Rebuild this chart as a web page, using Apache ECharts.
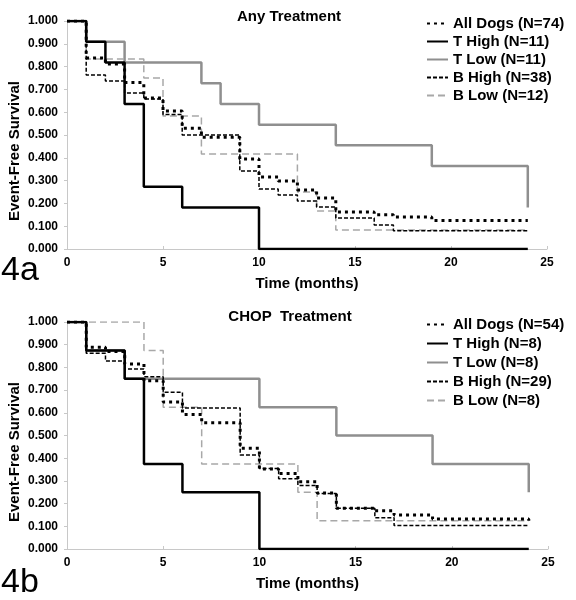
<!DOCTYPE html>
<html><head><meta charset="utf-8">
<script src="https://cdn.jsdelivr.net/npm/echarts@6/dist/echarts.min.js"></script>
<style>html,body{margin:0;padding:0;background:#fff}#c{width:576px;height:600px}</style>
</head><body><div id="c"></div>
<script>
// ---- Panel 4a: Any Treatment ----
const aTitle = 'Any Treatment';
const aNames = ['All Dogs (N=74)', 'T High (N=11)', 'T Low (N=11)', 'B High (N=38)', 'B Low (N=12)'];
const aAllT = [0,1,2,3,4,5,6,7,9,10,11,12,13,14,16,17,19,24];
const aAllS = [1,0.838,0.811,0.730,0.662,0.605,0.530,0.490,0.395,0.316,0.298,0.259,0.224,0.162,0.150,0.140,0.125,0.122];
const aTHighT = [0,1,2,3,4,6,10,24];
const aTHighS = [1,0.909,0.818,0.636,0.273,0.182,0,0];
const aTLowT = [0,1,3,7,8,10,14,19,24];
const aTLowS = [1,0.909,0.818,0.727,0.636,0.545,0.455,0.364,0.182];
const aBHighT = [0,1,2,3,4,5,6,9,10,11,12,13,14,16,17,24];
const aBHighS = [1,0.763,0.737,0.684,0.658,0.590,0.500,0.342,0.263,0.237,0.210,0.184,0.136,0.105,0.080,0.080];
const aBLowT = [0,1,4,5,7,12,13,14,24];
const aBLowS = [1,0.833,0.750,0.583,0.417,0.250,0.167,0.083,0.083];

// ---- Panel 4b: CHOP Treatment ----
const bTitle = 'CHOP  Treatment';
const bNames = ['All Dogs (N=54)', 'T High (N=8)', 'T Low (N=8)', 'B High (N=29)', 'B Low (N=8)'];
const bAllT = [0,1,2,3,4,5,6,7,9,10,11,12,13,14,16,17,19,24];
const bAllS = [1,0.889,0.870,0.815,0.741,0.648,0.593,0.556,0.444,0.352,0.333,0.296,0.247,0.180,0.168,0.150,0.132,0.125];
const bTHighT = [0,1,3,4,6,10,24];
const bTHighS = [1,0.875,0.75,0.375,0.25,0,0];
const bTLowT = [0,1,3,10,14,19,24];
const bTLowS = [1,0.875,0.75,0.625,0.5,0.375,0.25];
const bBHighT = [0,1,2,3,4,5,6,9,10,11,12,13,14,16,17,24];
const bBHighS = [1,0.862,0.828,0.793,0.759,0.690,0.621,0.414,0.355,0.310,0.280,0.245,0.180,0.138,0.103,0.103];
const bBLowT = [0,4,5,7,12,13,24];
const bBLowS = [1,0.875,0.625,0.375,0.25,0.125,0.125];

const xTicks = [0,5,10,15,20,25];
const xName = 'Time (months)';
const yName = 'Event-Free Survival';

const zip = (t, s) => t.map((v, i) => [v, s[i]]);
const FONT = 'Liberation Sans, Arial, sans-serif';

const styles = [
  {color:'#000', width:3, type:[3,4], z:5},      // All dogs dotted
  {color:'#000', width:2.5, type:'solid', z:6},  // T High
  {color:'#8f8f8f', width:2.5, type:'solid', z:2}, // T Low
  {color:'#000', width:1.5, type:[4,2], z:4},    // B High
  {color:'#a8a8a8', width:1.5, type:[7,4], z:3}  // B Low
];

function mkSeries(names, datasets, idx) {
  return names.map((n, i) => ({
    name: n, type: 'line', step: 'end', xAxisIndex: idx, yAxisIndex: idx,
    symbol: 'none', showSymbol: false, z: styles[i].z, silent: true,
    lineStyle: {color: styles[i].color, width: styles[i].width, type: styles[i].type, cap: 'butt'},
    itemStyle: {color: styles[i].color},
    data: zip(datasets[i][0], datasets[i][1])
  }));
}

const grids = [
  {left: 67, top: 21, width: 480, height: 228},
  {left: 67, top: 322, width: 481, height: 227}
];

function xAx(i) {
  return {gridIndex: i, type: 'value', min: 0, max: 25, interval: 5,
    name: xName, nameLocation: 'middle', nameGap: 27,
    nameTextStyle: {fontWeight: 'bold', fontSize: 15, color: '#000', fontFamily: FONT},
    axisLine: {show: true, lineStyle: {color: '#c8c8c8', width: 1}},
    axisTick: {show: true, inside: true, length: 3, lineStyle: {color: '#c8c8c8'}},
    axisLabel: {fontWeight: 'bold', fontSize: 12, color: '#000', margin: 8, fontFamily: FONT,
      formatter: v => xTicks.includes(v) ? String(v) : ''},
    splitLine: {show: false}};
}
function yAx(i) {
  return {gridIndex: i, type: 'value', min: 0, max: 1, interval: 0.1,
    axisLine: {show: true, lineStyle: {color: '#c8c8c8', width: 1}},
    axisTick: {show: true, length: 3, lineStyle: {color: '#c8c8c8'}},
    axisLabel: {fontWeight: 'bold', fontSize: 12, color: '#000', margin: 9, fontFamily: FONT,
      formatter: v => v.toFixed(3)},
    splitLine: {show: false}};
}

function legend(names, top, gap) {
  return {data: names, orient: 'vertical', left: 426, top: top, padding: 0,
    itemWidth: 21, itemHeight: 14, itemGap: gap, selectedMode: false,
    itemStyle: {opacity: 0, borderWidth: 0},
    textStyle: {fontWeight: 'bold', fontSize: 15, color: '#000', fontFamily: FONT}};
}

const option = {
  animation: false,
  backgroundColor: '#fff',
  title: [
    {text: aTitle, left: 284, top: 4, textAlign: 'center',
     textStyle: {fontWeight: 'bold', fontSize: 15, color: '#000', fontFamily: FONT}},
    {text: bTitle, left: 285, top: 304, textAlign: 'center',
     textStyle: {fontWeight: 'bold', fontSize: 15, color: '#000', fontFamily: FONT}}
  ],
  legend: [legend(aNames, 16, 3), legend(bNames, 317, 4)],
  grid: grids,
  xAxis: [xAx(0), xAx(1)],
  yAxis: [yAx(0), yAx(1)],
  series: [
    ...mkSeries(aNames, [[aAllT,aAllS],[aTHighT,aTHighS],[aTLowT,aTLowS],[aBHighT,aBHighS],[aBLowT,aBLowS]], 0),
    ...mkSeries(bNames, [[bAllT,bAllS],[bTHighT,bTHighS],[bTLowT,bTLowS],[bBHighT,bBHighS],[bBLowT,bBLowS]], 1)
  ],
  graphic: [
    {type: 'text', left: 1, top: 254, style: {text: '4a', fontSize: 34, fontFamily: FONT, fill: '#000'}},
    {type: 'text', left: 1, top: 566, style: {text: '4b', fontSize: 34, fontFamily: FONT, fill: '#000'}},
    {type: 'text', x: 15, y: 151, rotation: Math.PI / 2,
     style: {text: yName, fontSize: 15, fontWeight: 'bold', fontFamily: FONT, fill: '#000', align: 'center', verticalAlign: 'middle'}},
    {type: 'text', x: 15, y: 452, rotation: Math.PI / 2,
     style: {text: yName, fontSize: 15, fontWeight: 'bold', fontFamily: FONT, fill: '#000', align: 'center', verticalAlign: 'middle'}}
  ]
};
const chart = echarts.init(document.getElementById('c'), null, {renderer: 'canvas'});
chart.setOption(option);
</script>
</body></html>
